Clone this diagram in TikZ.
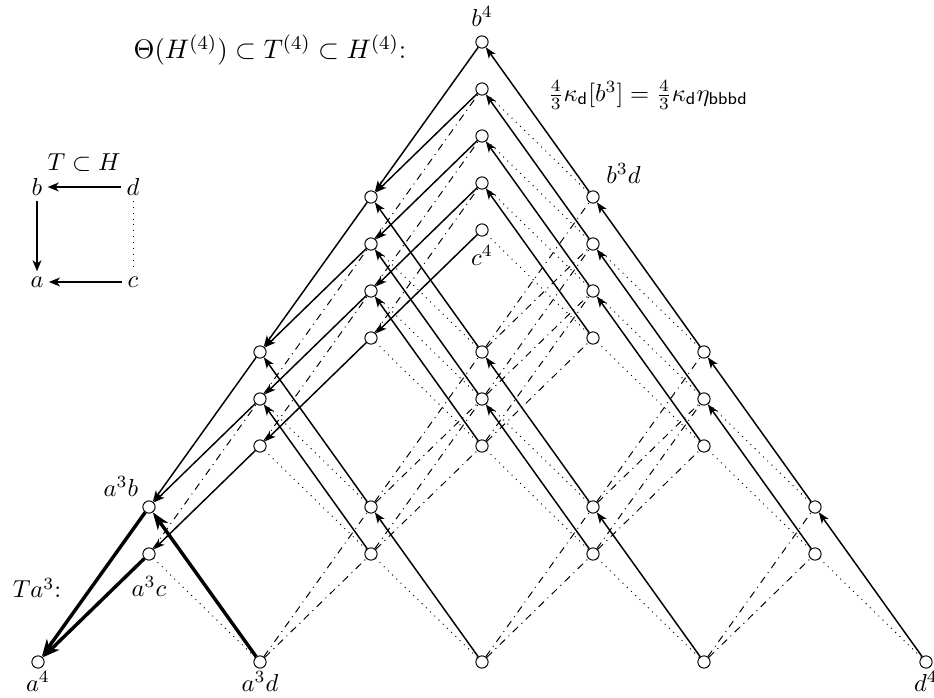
\documentclass[tikz,border=0pt]{standalone}
\usepackage{amsmath}
\usetikzlibrary{arrows.meta,positioning}

\begin{document}
\begin{tikzpicture}[x=0.408pt,y=-0.408pt,
  mono/.style={circle,draw,fill=white,inner sep=0pt,minimum size=5pt,line width=0.4pt},
  tarrow/.style={-{Stealth[length=4.5pt,width=3.4pt,inset=1.3pt]},line width=0.6pt},
  tbold/.style={-{Stealth[length=7pt,width=5pt,inset=2pt]},line width=1.4pt},
  tinset/.style={-{Stealth[length=4.5pt,width=3.6pt,inset=1.3pt]},line width=0.75pt},
  tdot/.style={dotted,line width=0.4pt},
  hdash/.style={dash dot,line width=0.4pt},
  lab/.style={inner sep=2pt}]
\useasboundingbox (0,0) rectangle (934,698);

% the monomials a^i b^j c^k d^l of degree 4
\foreach \i in {0,...,4}{
  \foreach \l in {0,...,4}{
    \foreach \k in {0,...,4}{
      \pgfmathtruncatemacro\j{4-\i-\k-\l}
      \ifnum\j<0\relax\else
        \node[mono] (m\i\j\k\l) at ({482+111*(\l-\i)},{42+155*(\i+\l)+47*\k}) {};
      \fi
    }
  }
}

% T: d -> b, c -> a, b -> a, and the other relations
\foreach \i in {0,...,4}{
  \foreach \l in {0,...,4}{
    \foreach \k in {0,...,4}{
      \pgfmathtruncatemacro\j{4-\i-\k-\l}
      \ifnum\i=3 \tikzset{tsolid/.style=tbold}\else\tikzset{tsolid/.style=tarrow}\fi
      \ifnum\j<0\relax\else
        \pgfmathtruncatemacro\ip{\i+1}\pgfmathtruncatemacro\im{\i-1}
        \pgfmathtruncatemacro\jp{\j+1}\pgfmathtruncatemacro\jm{\j-1}
        \pgfmathtruncatemacro\kp{\k+1}\pgfmathtruncatemacro\km{\k-1}
        \pgfmathtruncatemacro\lm{\l-1}
        \ifnum\l>0
          \draw[tsolid] (m\i\j\k\l) -- (m\i\jp\k\lm);
          \draw[tdot] (m\i\j\k\l) -- (m\i\j\kp\lm);
        \else\ifnum\k>0
          \draw[tsolid] (m\i\j\k\l) -- (m\ip\j\km\l);
        \else\ifnum\j>0
          \draw[tsolid] (m\i\j\k\l) -- (m\ip\jm\k\l);
        \fi\fi\fi
        \ifnum\i>0
          \pgfmathtruncatemacro\kl{\k+\l}
          \ifnum\kl>0 \draw[hdash] (m\i\j\k\l) -- (m\im\jp\k\l);\fi
          \ifnum\l>0 \draw[hdash] (m\i\j\k\l) -- (m\im\j\kp\l);\fi
        \fi
      \fi
    }
  }
}

\node[above=0pt of m0400] (lb4) {$b^4$};
\node[above right=0pt and 0pt of m0301] (lb3d) {$b^3d$};
\node[below=0pt of m0040] (lc4) {$c^4$};
\node[above left=-1pt and -1pt of m3100] (la3b) {$a^3b$};
\node[below=3pt of m3010] (la3c) {$a^3c$};
\node[below=-2.5pt of m4000] (la4) {$a^4$};
\node[below=-2.5pt of m3001] (la3d) {$a^3d$};
\node[below=-2.5pt of m0004] (ld4) {$d^4$};
\node (lta) at (37,588) {$Ta^3$:};

\node (title) at (270,50) {\fontsize{11.2pt}{13pt}\selectfont$\Theta(H^{(4)})\subset T^{(4)}\subset H^{(4)}$:};
\node (kappa) at (648,95) {$\tfrac43\kappa_{\mathsf d}[b^3]=\tfrac43\kappa_{\mathsf d}\eta_{\mathsf{bbbd}}$};

% the map T on H
\node[lab] (ib) at (37,187) {$b$};
\node[lab] (id) at (133,187) {$d$};
\node[lab] (ia) at (37,282) {$a$};
\node[lab] (ic) at (133,282) {$c$};
\node (it) at (84,163) {$T\subset H$};
\draw[tinset] (id) -- (ib);
\draw[tinset] (ib) -- (ia);
\draw[tinset] (ic) -- (ia);
\draw[tdot] (id) -- (ic);

\end{tikzpicture}
\end{document}
